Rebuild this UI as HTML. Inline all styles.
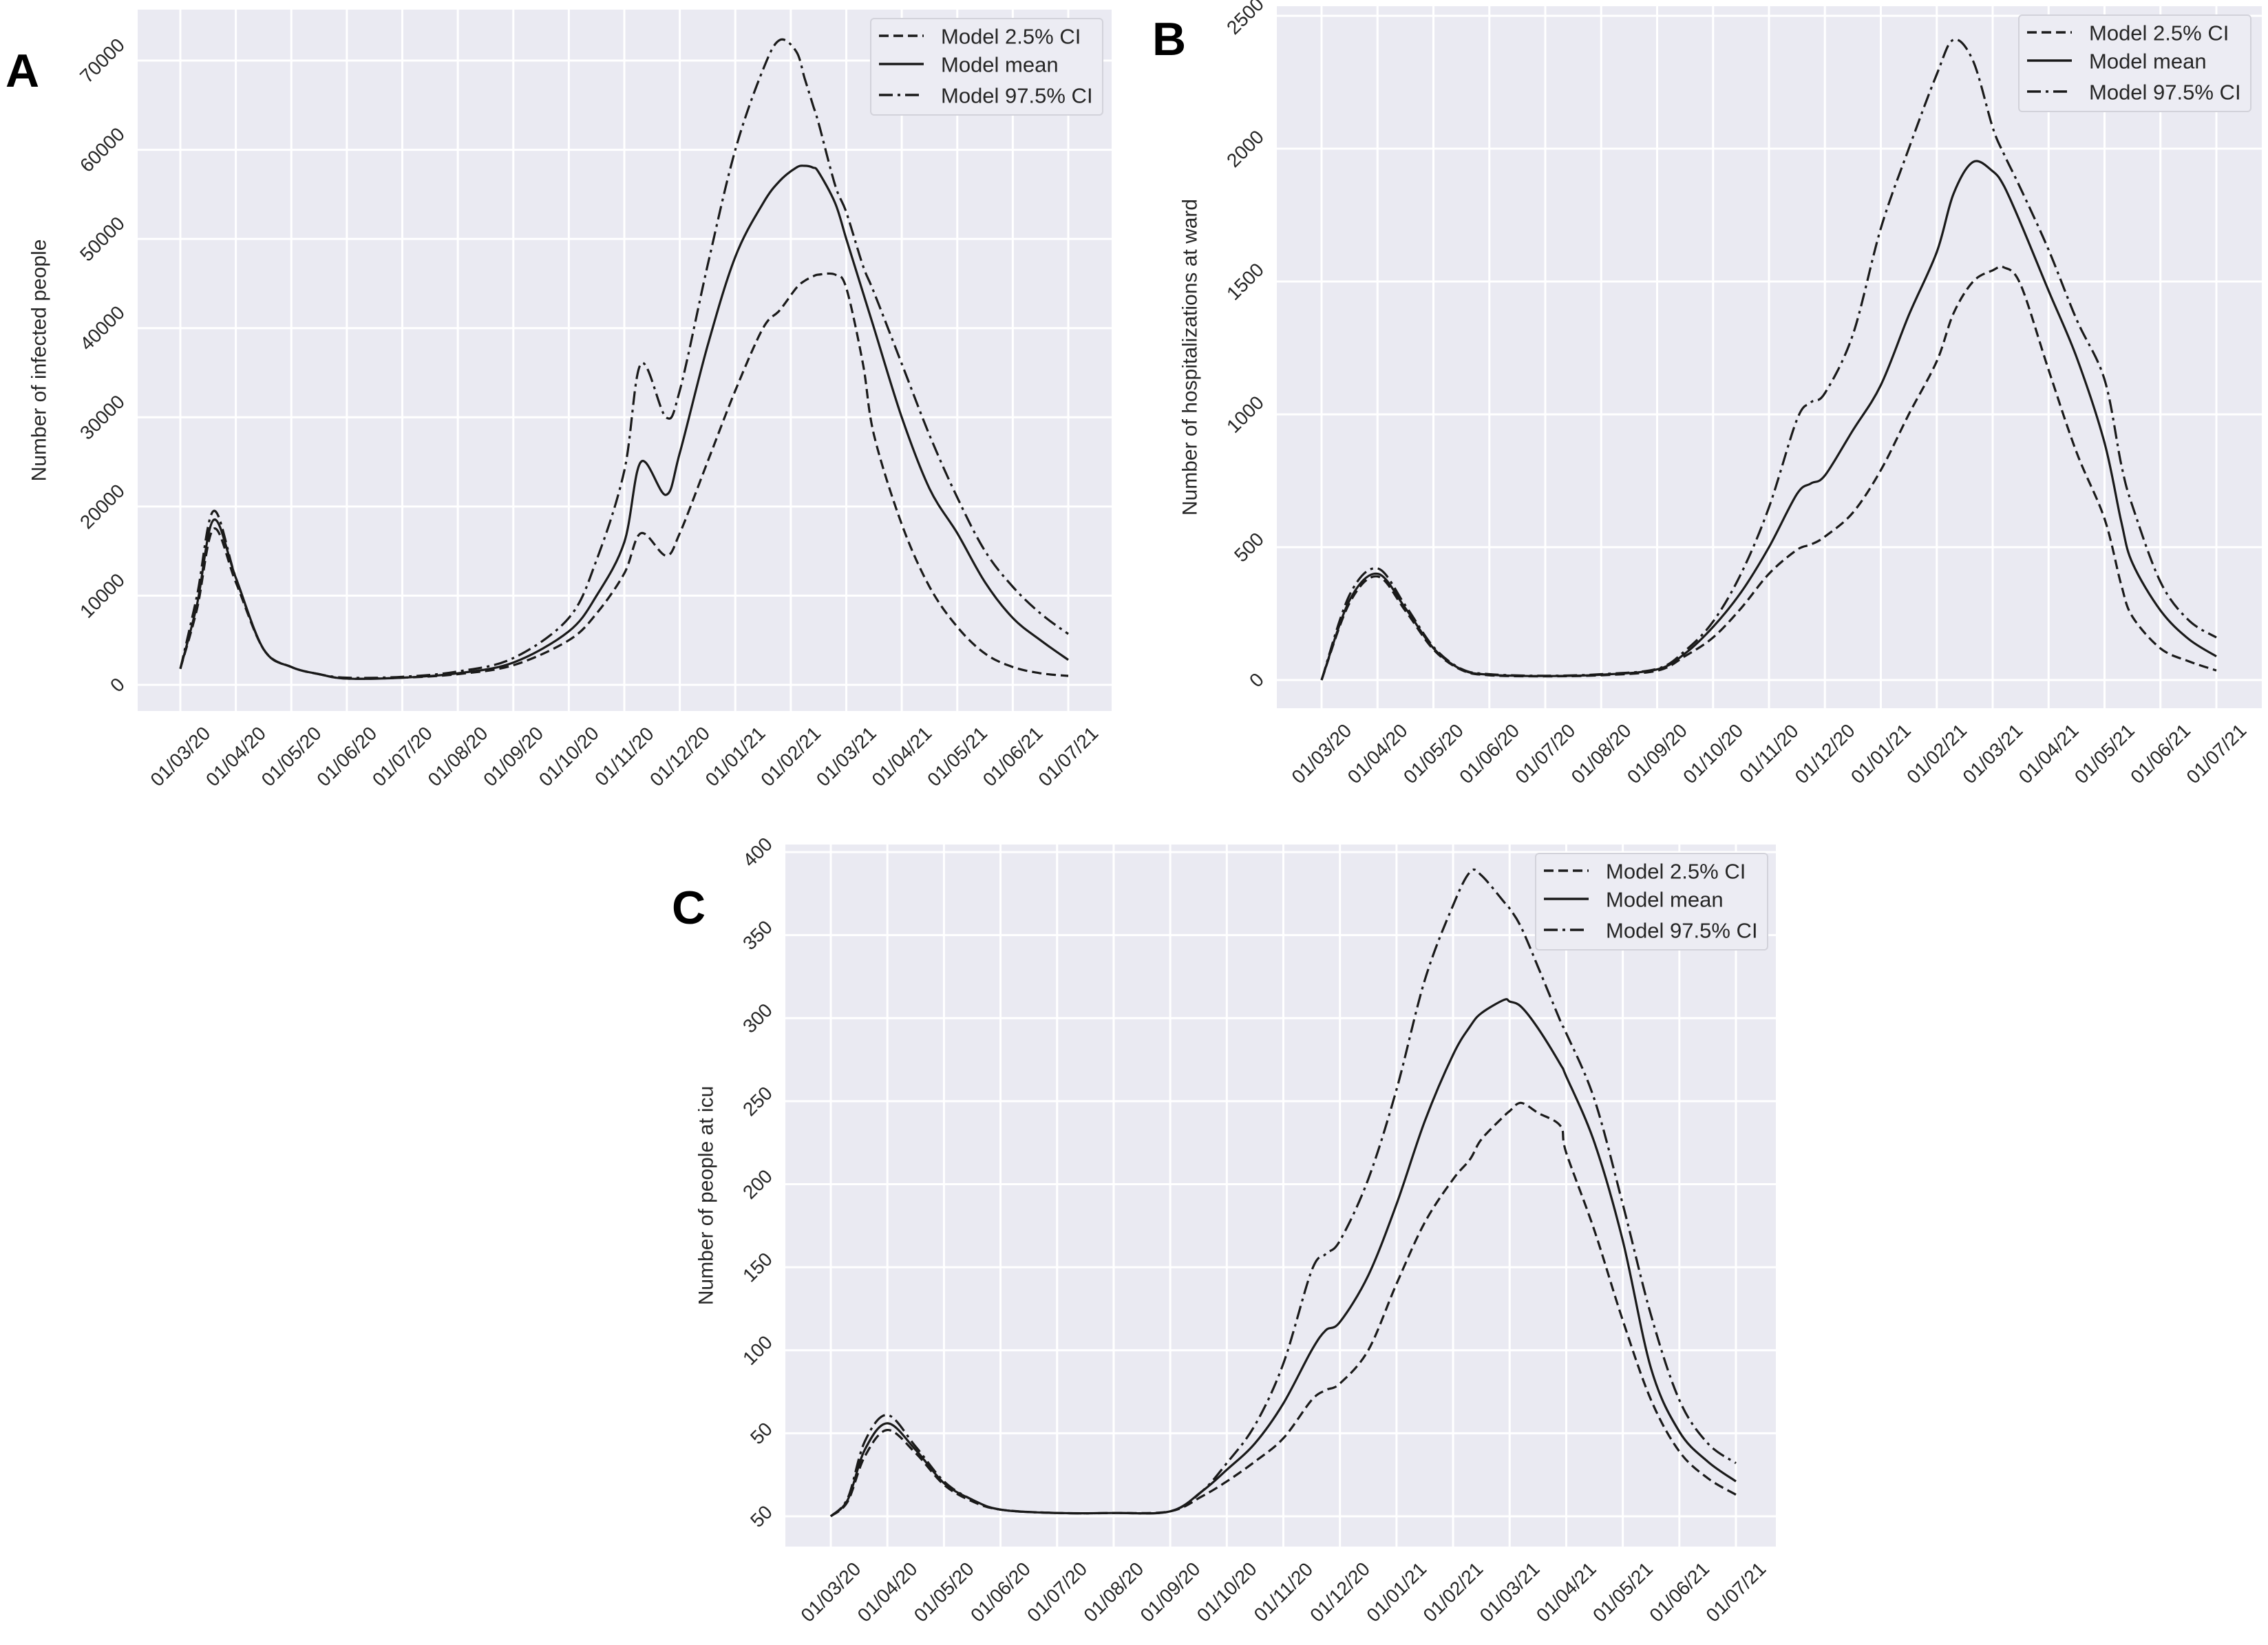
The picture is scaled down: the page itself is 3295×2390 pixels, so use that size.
<!DOCTYPE html>
<html><head><meta charset="utf-8"><style>
html,body{margin:0;padding:0;background:#fff;}
svg{display:block;font-family:"Liberation Sans",Arial,sans-serif;}
</style></head><body>
<svg id="fig" width="3295" height="2390" viewBox="0 0 3295 2390" xmlns="http://www.w3.org/2000/svg"></svg>
<script>
const monthLabels = ["01/03/20","01/04/20","01/05/20","01/06/20","01/07/20","01/08/20","01/09/20","01/10/20","01/11/20","01/12/20","01/01/21","01/02/21","01/03/21","01/04/21","01/05/21","01/06/21","01/07/21"];

// Panel A: infected people (month index, value in thousands)
const aMonths = [0,0.3,0.6,1,1.5,2,2.5,3,4,5,6,7,7.5,8,8.3,8.75,9,9.5,10,10.5,10.8,11.1,11.25,11.4,11.5,11.8,12,12.3,12.5,13,13.5,14,14.5,15,15.5,16];
const aMean  = [1.8,9,18.5,12,4,2,1.2,0.7,0.8,1.3,2.5,6,10,16,25,21.3,26,38,48,54,56.5,58,58.2,58,57.5,54,50,44,40,30,22,17,11.5,7.5,5,2.8].map(v=>v*1000);
const aUpper = [1.8,10,19.5,12,4,2,1.2,0.8,0.9,1.5,3,7.5,14,24,36,30,33,47,60,69,72.3,71,68,65,63,56,53,47,44,36,28,21,15,11,8,5.7].map(v=>v*1000);
const aLower = [1.8,8.5,17.5,11.5,4,2,1.2,0.7,0.8,1.2,2.2,5,8,12.5,17,14.5,17,25,33,40,42,44.5,45.3,45.8,46,46,44.5,36,28,18,11,6.5,3.5,2,1.3,1].map(v=>v*1000);
const aTicks = [0,10000,20000,30000,40000,50000,60000,70000];

// Panel B: hospitalizations at ward
const bMonths = [0,0.5,1,1.5,2,2.5,3,4,5,6,6.5,7,7.5,8,8.5,8.75,9,9.5,10,10.5,11,11.3,11.65,12,12.2,12.5,13,13.5,14,14.3,14.5,15,15.5,16];
const bMean  = [0,300,400,270,120,40,20,15,20,40,100,200,330,500,700,740,770,940,1110,1373,1611,1830,1950,1915,1860,1720,1465,1215,893,595,440,262,155,89];
const bUpper = [0,320,420,280,125,42,22,16,22,42,110,220,400,650,980,1045,1080,1300,1700,2000,2280,2410,2330,2080,1980,1850,1619,1357,1131,810,655,369,226,160];
const bLower = [0,290,390,260,115,38,18,14,18,35,90,160,270,400,490,510,540,630,790,1000,1200,1380,1500,1542,1553,1488,1167,857,607,357,238,119,71,36];
const bTicks = [0,500,1000,1500,2000,2500];

// Panel C: people at ICU
const cMonths = [0,0.3,0.6,1,1.5,2,2.5,3,4,5,6,6.56,7,7.5,8,8.5,8.75,9,9.5,10,10.5,11,11.3,11.5,11.9,12,12.2,12.5,12.9,13,13.5,14,14.5,15,15.5,16];
const cMean  = [0,10,40,56,40,20,10,4,2,2,3,15,28,44,68,100,112,117,145,188,238,278,295,303,311,310,307,294,272,265,225,166,89,51,33,21];
const cUpper = [0,11,45,61,42,21,10,4,2,2,3,15,32,55,92,148,158,166,203,257,323,368,388,386,370,366,355,331,298,291,251,188,121,70,44,32];
const cLower = [0,9,36,52,38,19,9,4,2,2,3,12,21,33,47,70,76,80,100,140,177,203,215,227,241,244,249,243,235,219,172,118,70,39,23,13];
const cTicks = [0,50,100,150,200,250,300,350,400];
const cTickLabels = ["50","50","100","150","200","250","300","350","400"];

const NS="http://www.w3.org/2000/svg";
const svg=document.getElementById('fig');
function mk(tag,attrs,parent){const e=document.createElementNS(NS,tag);for(const k in attrs)e.setAttribute(k,attrs[k]);(parent||svg).appendChild(e);return e;}
function smooth(pts){
  let d="M"+pts[0][0].toFixed(1)+","+pts[0][1].toFixed(1);
  for(let i=0;i<pts.length-1;i++){
    const p0=pts[Math.max(0,i-1)],p1=pts[i],p2=pts[i+1],p3=pts[Math.min(pts.length-1,i+2)];
    const c1=[p1[0]+(p2[0]-p0[0])/6,p1[1]+(p2[1]-p0[1])/6];
    const c2=[p2[0]-(p3[0]-p1[0])/6,p2[1]-(p3[1]-p1[1])/6];
    d+=" C"+c1[0].toFixed(1)+","+c1[1].toFixed(1)+" "+c2[0].toFixed(1)+","+c2[1].toFixed(1)+" "+p2[0].toFixed(1)+","+p2[1].toFixed(1);
  }
  return d;
}
const FS=28;
function panel(cfg){
  const g=mk('g',{});
  
  
  const bg=mk('rect',{x:cfg.L,y:cfg.T,width:cfg.R-cfg.L,height:cfg.B-cfg.T,fill:'#eaeaf2'},g);
  
  
  const xs=m=>cfg.x0+(cfg.x1-cfg.x0)*m/16;
  const ys=v=>cfg.y0+(cfg.ytop-cfg.y0)*v/cfg.vtop;
  cfg.ticks.forEach((t,i)=>{
    const y=ys(t);
    const l=mk('line',{x1:cfg.L,x2:cfg.R,y1:y,y2:y,stroke:'#fff','stroke-width':3},g);
    
    
    const lab=cfg.tickLabels?cfg.tickLabels[i]:String(t);
    const w=lab.length*0.556*FS;
    const cx=cfg.L-14-(w+FS)*0.354;
    const tx=mk('text',{x:cx,y:y,'font-size':FS,'text-anchor':'middle','dominant-baseline':'central',fill:'#262626',transform:`rotate(-45 ${cx} ${y})`},g);
    tx.textContent=lab;
    
    
  });
  monthLabels.forEach((lab,i)=>{
    const x=xs(i);
    const l=mk('line',{x1:x,x2:x,y1:cfg.T,y2:cfg.B,stroke:'#fff','stroke-width':3},g);
    
    
    const w=lab.length*0.556*FS;
    const cy=cfg.B+12+(w+FS)*0.354;
    const tx=mk('text',{x:x,y:cy,'font-size':FS,'text-anchor':'middle','dominant-baseline':'central',fill:'#262626',transform:`rotate(-45 ${x} ${cy})`},g);
    tx.textContent=lab;
    
    
  });
  const series=[[cfg.lower,'14,7','lower-ci-line'],[cfg.mean,'none','mean-line'],[cfg.upper,'20,7,4,7','upper-ci-line']];
  series.forEach(([vals,dash,nm])=>{
    const pts=cfg.months.map((m,i)=>[xs(m),ys(vals[i])]);
    const p=mk('path',{d:smooth(pts),fill:'none',stroke:'#1a1a1a','stroke-width':3.2,'stroke-dasharray':dash,'stroke-linejoin':'round'},g);
    
    
  });
  const cyT=(cfg.T+cfg.B)/2;
  const yt=mk('text',{x:cfg.titleX,y:cyT,'font-size':30,'text-anchor':'middle','dominant-baseline':'central',fill:'#262626',transform:`rotate(-90 ${cfg.titleX} ${cyT})`},g);
  yt.textContent=cfg.title;
  
  
  const lx=cfg.legX, ly=cfg.legY;
  const lg=mk('g',{},g);
  
  
  mk('rect',{x:lx,y:ly,width:337,height:140,rx:5,fill:'#ececf3',stroke:'#d2d2da','stroke-width':2},lg);
  const entries=[['Model 2.5% CI','14,7',25],['Model mean','none',66],['Model 97.5% CI','20,7,4,7',111]];
  entries.forEach(([t,dash,dy])=>{
    const e=mk('g',{},lg);
    
    
    mk('line',{x1:lx+12,x2:lx+77,y1:ly+dy,y2:ly+dy,stroke:'#1a1a1a','stroke-width':3.5,'stroke-dasharray':dash},e);
    const tx=mk('text',{x:lx+102,y:ly+dy+1,'font-size':31,'dominant-baseline':'central',fill:'#262626'},e);
    tx.textContent=t;
  });
  const letter=mk('text',{x:cfg.letX,y:cfg.letY,'font-size':68,'font-weight':'bold',fill:'#000'},g);
  letter.textContent=cfg.letter;
  
  
}
panel({name:'panel-a-infected',L:200,R:1615,T:14,B:1033,x0:262,x1:1552,y0:995,ytop:88,vtop:70000,ticks:aTicks,
  months:aMonths,mean:aMean,upper:aUpper,lower:aLower,title:'Number of infected people',titleX:57,legX:1265,legY:27,letter:'A',letX:8,letY:126});
panel({name:'panel-b-ward',L:1855,R:3286,T:9,B:1029,x0:1920,x1:3220,y0:988,ytop:23,vtop:2500,ticks:bTicks,
  months:bMonths,mean:bMean,upper:bUpper,lower:bLower,title:'Number of hospitalizations at ward',titleX:1729,legX:2933,legY:22,letter:'B',letX:1674,letY:80});
panel({name:'panel-c-icu',L:1141,R:2580,T:1227,B:2247,x0:1207,x1:2522,y0:2203,ytop:1238,vtop:400,ticks:cTicks,tickLabels:cTickLabels,
  months:cMonths,mean:cMean,upper:cUpper,lower:cLower,title:'Number of people at icu',titleX:1026,legX:2231,legY:1240,letter:'C',letX:976,letY:1342});
</script>
</body></html>
